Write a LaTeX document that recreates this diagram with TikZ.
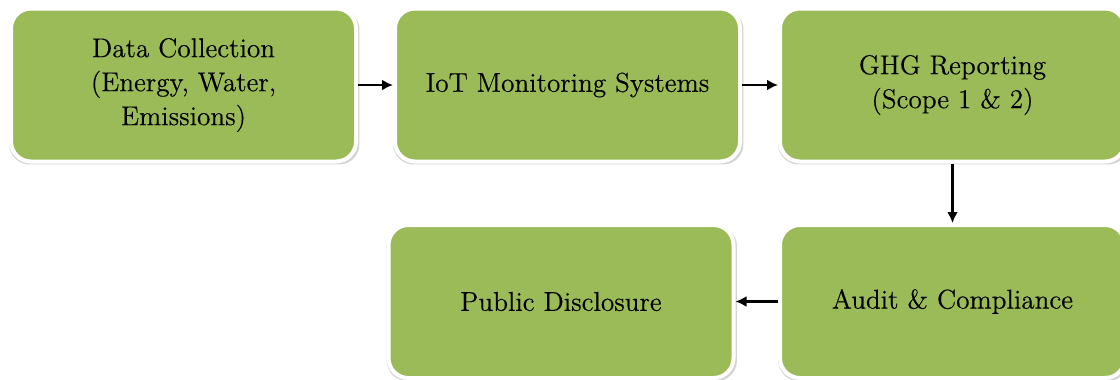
\documentclass[tikz,border=0pt]{standalone}
\usepackage{fontspec}
\usepackage{tikz}
\usepackage{color}
\usetikzlibrary{positioning,shadows,arrows.meta}
\newfontfamily\stagefont{Latin Modern Roman}[FakeBold=0.35]
\definecolor{leafgreen}{RGB}{155,187,89}
\tikzset{
  stage/.style={
    rounded corners=10pt,
    fill=leafgreen,
    draw=white,
    line width=2pt,
    minimum width=172.5pt,
    minimum height=76.5pt,
    align=center,
    font=\stagefont\fontsize{13.6}{17}\selectfont,
    drop shadow={opacity=0.35,shadow xshift=0.4pt,shadow yshift=-0.9pt,shadow scale=1.015}
  },
  flow/.style={-{Latex[length=5.5pt,width=5.5pt]},line width=1.4pt}
}

\begin{document}
\begin{tikzpicture}
      \useasboundingbox (0,0) rectangle (560pt,-190pt);
      \node [stage] (Collect) at (91.75pt,-42.5pt) {Data Collection\\(Energy, Water,\\Emissions)};
      \node [stage, on grid, right=192pt of Collect] (Monitor) {IoT Monitoring Systems};
      \node [stage, on grid, right=192.5pt of Monitor] (Report) {GHG Reporting\\(Scope 1 \& 2)};
      \node [stage, on grid, below=108.25pt of Report] (Audit) {Audit \& Compliance};
      \node [stage, on grid, left=195.75pt of Audit] (Disclose) {Public Disclosure};
      \draw [flow] (Collect) -- (Monitor);
      \draw [flow] (Monitor) -- (Report);
      \draw [flow] (Report) -- (Audit);
      \draw [flow] (Audit) -- (Disclose);
    \end{tikzpicture}
\end{document}
